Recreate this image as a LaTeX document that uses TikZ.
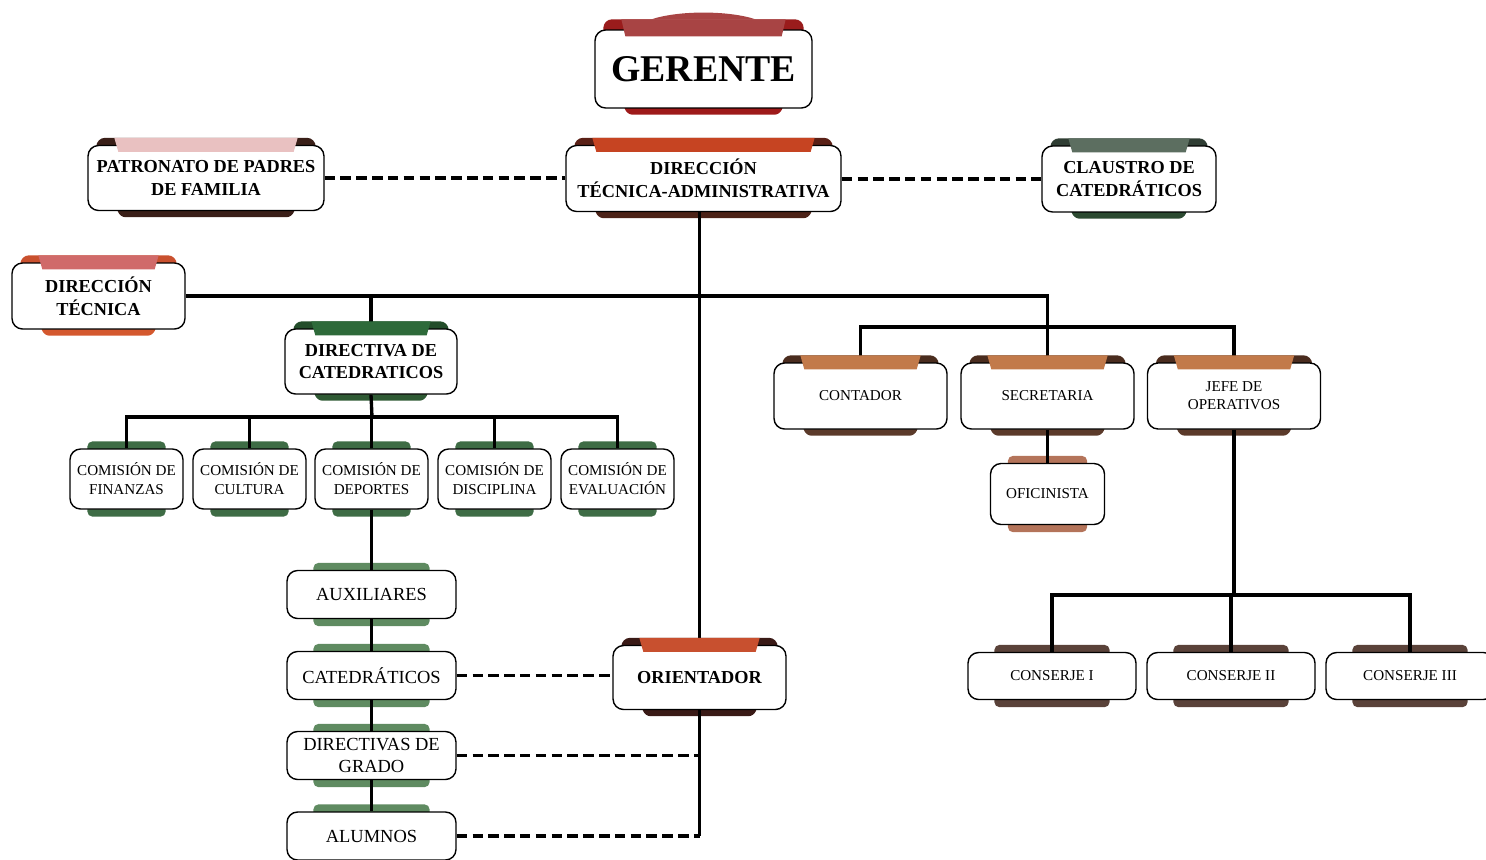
\documentclass[tikz,border=0pt]{standalone}
\usepackage{fontspec}
\setmainfont{Liberation Serif}
\usepackage{xcolor}
\definecolor{gerli}{HTML}{A84444}
\definecolor{gerdk}{HTML}{9A1C1C}
\definecolor{gerbt}{HTML}{9E1A1A}
\definecolor{patli}{HTML}{E9C1C1}
\definecolor{patdk}{HTML}{3A1F18}
\definecolor{dtali}{HTML}{C64422}
\definecolor{dtadk}{HTML}{5A2016}
\definecolor{dtabt}{HTML}{4C2217}
\definecolor{clali}{HTML}{5C6E60}
\definecolor{cladk}{HTML}{2F3D33}
\definecolor{clabt}{HTML}{2C4A31}
\definecolor{tecli}{HTML}{D06A6A}
\definecolor{tecdk}{HTML}{C9502E}
\definecolor{tecbt}{HTML}{D4582E}
\definecolor{catli}{HTML}{2E6A3A}
\definecolor{catdk}{HTML}{234D2A}
\definecolor{catbt}{HTML}{2F5A34}
\definecolor{admli}{HTML}{C27A4A}
\definecolor{admdk}{HTML}{4A2C1E}
\definecolor{admbt}{HTML}{5B3A2A}
\definecolor{orili}{HTML}{C8502F}
\definecolor{oridk}{HTML}{3A1A16}
\definecolor{comgr}{HTML}{3E6C45}
\definecolor{lowgr}{HTML}{5F8B61}
\definecolor{conbr}{HTML}{5A4239}
\definecolor{ofibr}{HTML}{B4745A}
\usetikzlibrary{positioning,calc}
\pgfdeclarelayer{background}
\pgfdeclarelayer{foreground}
\pgfsetlayers{background,main,foreground}
\tikzstyle{orgbox} = [rectangle, rounded corners=6pt, draw=black, line width=0.8pt, fill=white, align=center, inner sep=0pt]
\tikzstyle{topbox} = [orgbox, font=\bfseries\fontsize{10.4}{13}\selectfont]
\tikzstyle{combox} = [orgbox, minimum width=2.26cm, minimum height=1.2cm, font=\fontsize{8.6}{10.8}\selectfont]
\tikzstyle{admbox} = [orgbox, minimum width=3.46cm, minimum height=1.32cm, font=\fontsize{8.6}{10.3}\selectfont]
\tikzstyle{lowbox} = [orgbox, minimum width=3.38cm, minimum height=0.96cm, font=\fontsize{10.5}{12.5}\selectfont]
\tikzstyle{conbox} = [orgbox, minimum width=3.36cm, minimum height=0.94cm, font=\fontsize{8.6}{10.5}\selectfont]
\tikzstyle{conn} = [line width=1.9pt, black]
\tikzstyle{dconn} = [line width=1.9pt, black, dash pattern=on 6pt off 3pt]
\newcommand{\ribbon}[5]{%
\begin{pgfonlayer}{background}
\fill[#3, rounded corners=5pt] ($(#1.north west)+(9,-#5)$) rectangle ($(#1.north east)+(-9,12)$);
\fill[#4, rounded corners=3pt] ($(#1.south west)+(28,-6)$) -- ($(#1.south east)+(-28,-6)$) -- ($(#1.south east)+(-33,6)$) -- ($(#1.south west)+(33,6)$) -- cycle;
\end{pgfonlayer}
\begin{pgfonlayer}{foreground}
\fill[#2] ($(#1.north west)+(27,-#5)$) -- ($(#1.north east)+(-27,-#5)$) -- ($(#1.north east)+(-31,7)$) -- ($(#1.north west)+(31,7)$) -- cycle;
\end{pgfonlayer}}
\newcommand{\tabs}[3]{%
\begin{pgfonlayer}{background}
\fill[#2, rounded corners=3pt] ($(#1.north west)+(#3,-7)$) rectangle ($(#1.north east)+(-#3,6)$);
\fill[#2, rounded corners=3pt] ($(#1.south west)+(#3,-6)$) rectangle ($(#1.south east)+(-#3,7)$);
\end{pgfonlayer}}
\begin{document}
\begin{tikzpicture}[x=0.02cm, y=-0.02cm]
	\useasboundingbox (0,0) rectangle (1486,859);
	\node (gerente) [orgbox, minimum width=4.34cm, minimum height=1.56cm, font=\bfseries\fontsize{21.5}{24}\selectfont] at (703.5,69) {GERENTE};
	\node (patr) [topbox, minimum width=4.72cm, minimum height=1.3cm] at (206,178) {PATRONATO DE PADRES\\DE FAMILIA};
	\node (dta) [topbox, minimum width=5.5cm, minimum height=1.32cm] at (703.5,178.5) {DIRECCIÓN\\TÉCNICA-ADMINISTRATIVA};
	\node (claus) [topbox, minimum width=3.48cm, minimum height=1.32cm] at (1129,179) {CLAUSTRO DE\\CATEDRÁTICOS};
	\node (dtec) [topbox, minimum width=3.46cm, minimum height=1.32cm] at (98.5,296) {DIRECCIÓN\\TÉCNICA};
	\node (dircat) [topbox, minimum width=3.44cm, minimum height=1.3cm] at (371,361.5) {DIRECTIVA DE\\CATEDRATICOS};
	\node (fin) [combox] at (126.5,479) {COMISIÓN DE\\FINANZAS};
	\node (cul) [combox] at (249.5,479) {COMISIÓN DE\\CULTURA};
	\node (dep) [combox] at (371.5,479) {COMISIÓN DE\\DEPORTES};
	\node (dis) [combox] at (494.5,479) {COMISIÓN DE\\DISCIPLINA};
	\node (eva) [combox] at (617.5,479) {COMISIÓN DE\\EVALUACIÓN};
	\node (cont) [admbox] at (860.5,396) {CONTADOR};
	\node (secr) [admbox] at (1047.5,396) {SECRETARIA};
	\node (jefe) [admbox] at (1234,396) {JEFE DE\\OPERATIVOS};
	\node (ofi) [admbox, minimum width=2.28cm, minimum height=1.22cm] at (1047.5,494) {OFICINISTA};
	\node (aux) [lowbox] at (371.5,594.5) {AUXILIARES};
	\node (cat) [lowbox] at (371.5,675.5) {CATEDRÁTICOS};
	\node (dgr) [lowbox] at (371.5,755.5) {DIRECTIVAS DE\\GRADO};
	\node (alum) [lowbox] at (371.5,836) {ALUMNOS};
	\node (orient) [topbox, minimum width=3.46cm, minimum height=1.28cm] at (699.5,677.5) {ORIENTADOR};
	\node (con1) [conbox] at (1052,676) {CONSERJE I};
	\node (con2) [conbox] at (1231,676) {CONSERJE II};
	\node (con3) [conbox] at (1410,676) {CONSERJE III};
	\ribbon{gerente}{gerli}{gerdk}{gerbt}{10}
	\ribbon{patr}{patli}{patdk}{patdk}{7}
	\ribbon{dta}{dtali}{dtadk}{dtabt}{7}
	\ribbon{claus}{clali}{cladk}{clabt}{7}
	\ribbon{dtec}{tecli}{tecdk}{tecbt}{7}
	\ribbon{dircat}{catli}{catdk}{catbt}{7}
	\ribbon{cont}{admli}{admdk}{admbt}{7}
	\ribbon{secr}{admli}{admdk}{admbt}{7}
	\ribbon{jefe}{admli}{admdk}{admbt}{7}
	\ribbon{orient}{orili}{oridk}{oridk}{7}
	\foreach \n in {fin,cul,dep,dis,eva} {\tabs{\n}{comgr}{18}}
	\foreach \n in {aux,cat,dgr,alum} {\tabs{\n}{lowgr}{27}}
	\foreach \n in {con1,con2,con3} {\tabs{\n}{conbr}{27}}
	\tabs{ofi}{ofibr}{18}
	\begin{pgfonlayer}{foreground}
	\fill[gerli] ($(gerente.north)+(-52,-10)$) .. controls ($(gerente.north)+(-25,-19)$) and ($(gerente.north)+(25,-19)$) .. ($(gerente.north)+(52,-10)$) -- cycle;
	\end{pgfonlayer}
	\begin{pgfonlayer}{background}
	\coordinate (admbus) at (1048,327);
	\coordinate (combus) at (372,417);
	\coordinate (conbus) at (1234,595);
	\draw [dconn] (patr.east) -- (patr.east -| dta.west);
	\draw [dconn] (dta.east |- claus.west) -- (claus.west);
	\draw [conn] (orient |- dta.south) -- (orient |- alum.east);
	\draw [conn] (dtec.east) -| (secr.north);
	\draw [conn] (cont.north) |- (admbus) -| (jefe.north);
	\draw [conn] (dircat.north) -- (dircat |- dtec.east);
	\draw [conn] (dircat.south) -- (combus);
	\draw [conn] (fin.north) |- (combus) -| (eva.north);
	\foreach \n in {cul,dep,dis} {\draw [conn] (\n.north) -- (\n |- combus);}
	\draw [conn] (dep.south) -- (alum.north);
	\draw [conn] (secr.south) -- (ofi.north);
	\draw [conn] (jefe.south) -- (conbus);
	\draw [conn] (con1.north) |- (conbus) -| (con3.north);
	\draw [conn] (con2.north) -- (con2 |- conbus);
	\draw [dconn] (cat.east) -- (cat.east -| orient.west);
	\draw [dconn] (dgr.east) -- (dgr.east -| orient);
	\draw [dconn] (alum.east) -- (alum.east -| orient);
	\end{pgfonlayer}
\end{tikzpicture}
\end{document}
